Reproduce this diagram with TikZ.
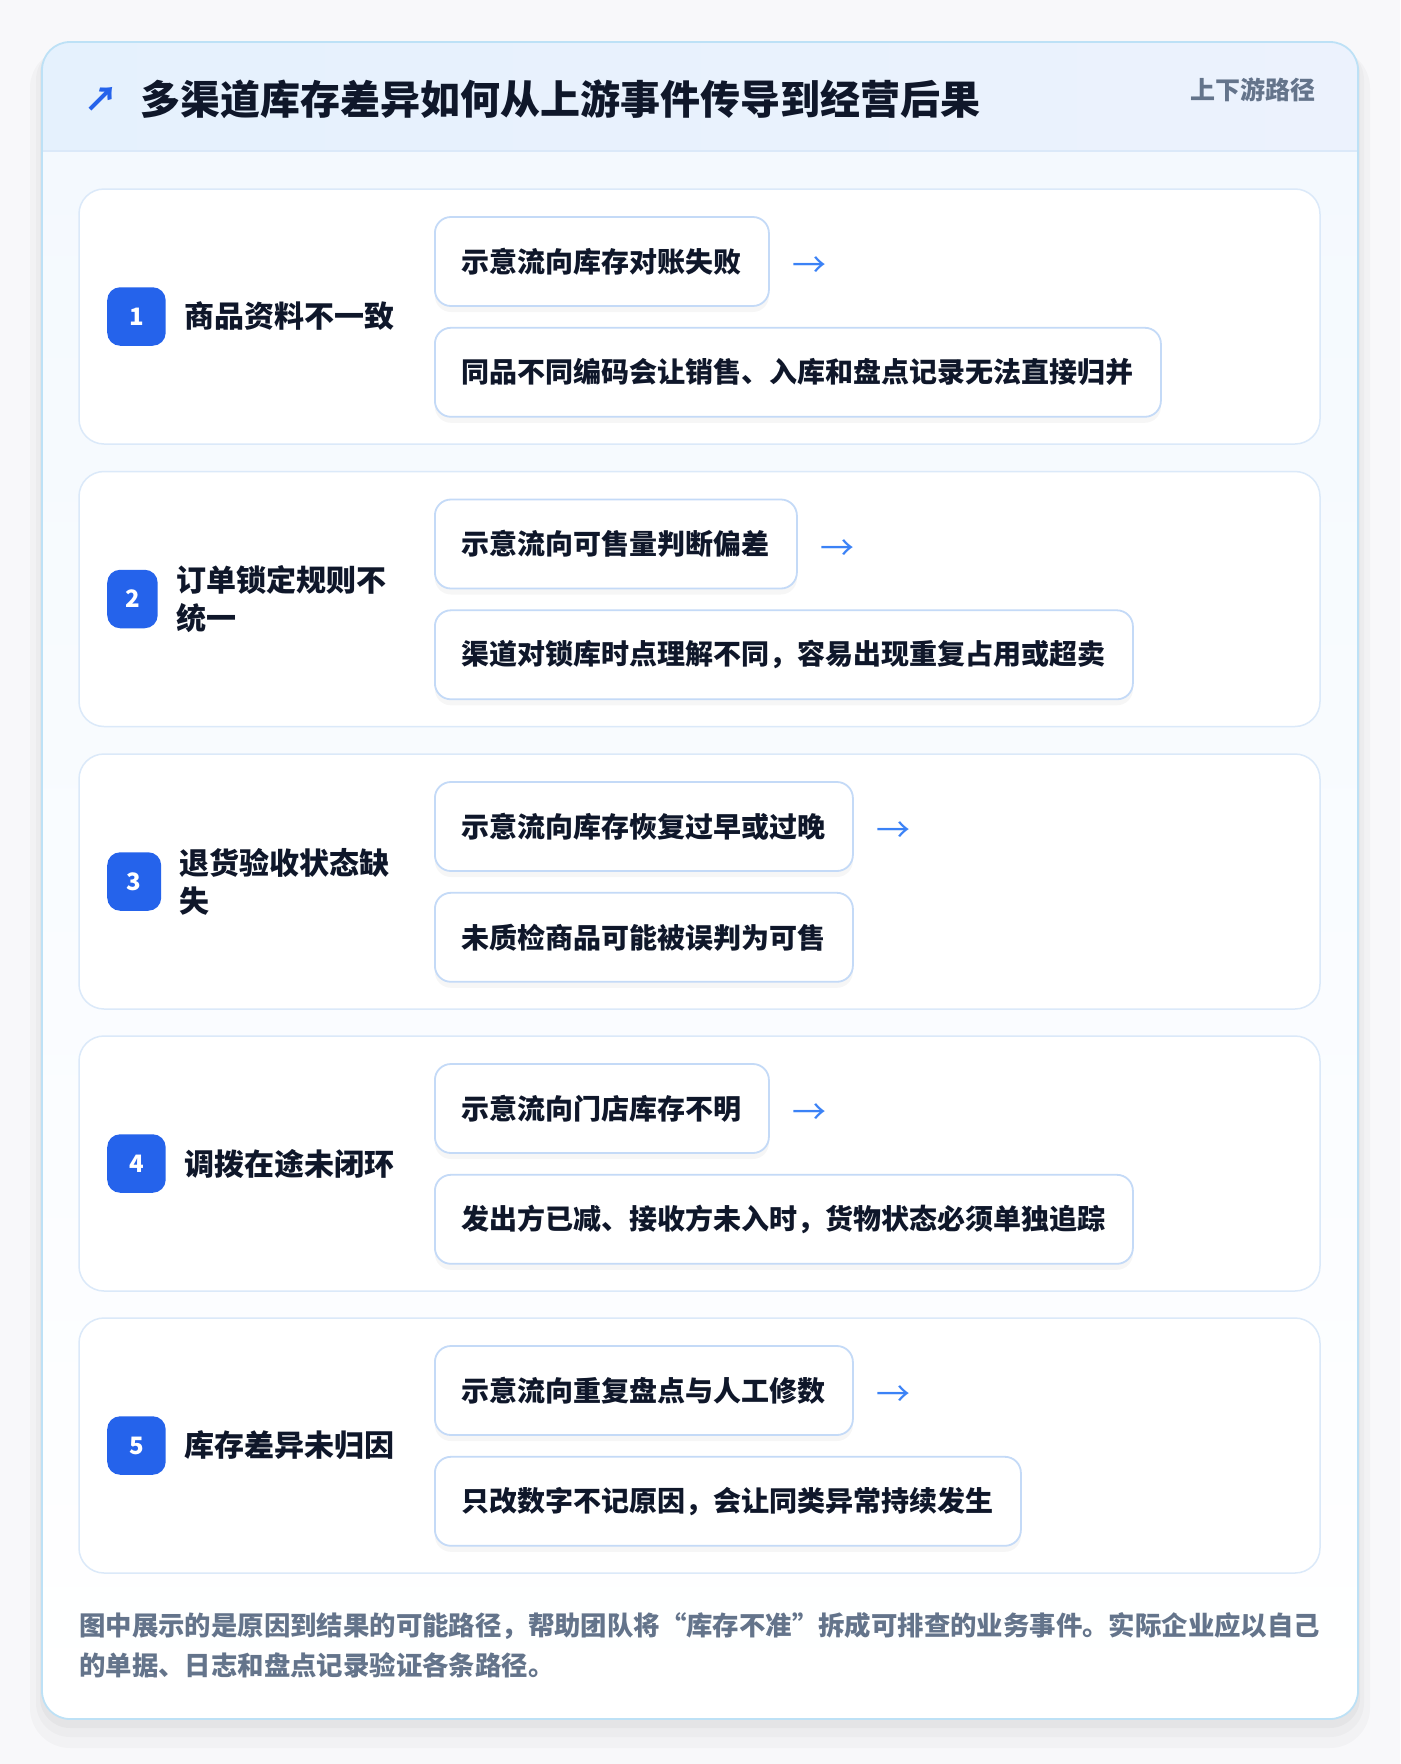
\documentclass[tikz,border=0pt]{standalone}
\usepackage{fontspec}
\setmainfont{Noto Sans CJK SC}
\usetikzlibrary{positioning,shadows}
\definecolor{invnavy}{RGB}{15,23,42}
\definecolor{invblue}{RGB}{37,99,235}
\definecolor{invarrow}{RGB}{59,130,246}
\definecolor{invgray}{RGB}{100,116,139}
\definecolor{invedge}{RGB}{196,218,247}
\definecolor{invrow}{RGB}{219,233,249}
\definecolor{invframe}{RGB}{189,225,246}
\definecolor{invhead}{RGB}{229,241,253}
\definecolor{invheadr}{RGB}{236,242,253}
\definecolor{invpage}{RGB}{248,248,250}

\begin{document}
\begin{tikzpicture}[x=1pt,y=-1pt,
    rowcard/.style={draw=invrow, line width=1.5pt, fill=white, rounded corners=25pt,
        minimum width=1241pt, minimum height=255pt, inner sep=0pt},
    badge/.style={fill=invblue, rounded corners=13pt, minimum height=58.5pt, inner sep=0pt,
        text=white, font=\fontsize{24}{24}\selectfont\bfseries, anchor=west},
    cause/.style={font=\fontsize{30}{38}\selectfont\bfseries, text=invnavy, align=left, inner sep=0pt},
    effect/.style={draw=invedge, line width=1.8pt, fill=white, rounded corners=16pt,
        minimum height=89pt, inner xsep=27pt, inner ysep=0pt, anchor=west,
        font=\fontsize{28}{34}\selectfont\bfseries, text=invnavy,
        drop shadow={shadow xshift=0pt, shadow yshift=-6pt, opacity=0.035, fill=black}},
    flowmark/.style={font=\fontsize{34}{34}\selectfont, text=invarrow, inner sep=0pt}]
    \useasboundingbox (0,0) rectangle (1400,1764);
    \fill[invpage] (0,0) rectangle (1400,1764);

    % Card shadow
    \fill[black, opacity=0.025, rounded corners=40pt] (30,48) rectangle (1370,1748);
    \fill[black, opacity=0.025, rounded corners=34pt] (36,46) rectangle (1364,1737);
    \fill[black, opacity=0.03, rounded corners=30pt] (40,44) rectangle (1360,1728);

    % Card and header band
    \fill[top color=invhead!45, bottom color=white, rounded corners=28pt] (42,42) rectangle (1358,1719);
    \begin{scope}
        \clip[rounded corners=28pt] (42,42) rectangle (1358,1719);
        \fill[left color=invhead, right color=invheadr] (42,42) rectangle (1358,151);
    \end{scope}
    \draw[invrow, line width=1.5pt] (42,151) -- (1358,151);
    \draw[invframe, line width=1.8pt, rounded corners=28pt] (42,42) rectangle (1358,1719);

    % Title
    \node[font=\fontsize{34}{34}\selectfont\bfseries, text=invblue, inner sep=0pt] (icon) at (101,99) {↗};
    \node[font=\fontsize{40}{48}\selectfont\bfseries, text=invnavy, anchor=west, inner sep=0pt] (title) at (140,99) {多渠道库存差异如何从上游事件传导到经营后果};
    \node[font=\fontsize{25}{30}\selectfont\bfseries, text=invgray, anchor=east, inner sep=0pt] (tag) at (1316,90) {上下游路径};

    % Row 1
    \node[rowcard] (row1) at (699.5,316.5) {};
    \node[badge, minimum width=58.5pt] (b1) at (107,316.5) {1};
    \node[cause, right=18pt of b1] (c1) {商品资料不一致};
    \node[effect] (a1) at (434,261.5) {示意流向库存对账失败};
    \node[flowmark, right=22pt of a1, yshift=-6pt] (m1) {→};
    \node[effect, below=20pt of a1.south west, anchor=north west] (d1) {同品不同编码会让销售、入库和盘点记录无法直接归并};

    % Row 2
    \node[rowcard] (row2) at (699.5,599) {};
    \node[badge, minimum width=50.5pt] (b2) at (107,599) {2};
    \node[cause, right=18pt of b2] (c2) {订单锁定规则不\\统一};
    \node[effect] (a2) at (434,544) {示意流向可售量判断偏差};
    \node[flowmark, right=22pt of a2, yshift=-6pt] (m2) {→};
    \node[effect, below=20pt of a2.south west, anchor=north west] (d2) {渠道对锁库时点理解不同，容易出现重复占用或超卖};

    % Row 3
    \node[rowcard] (row3) at (699.5,881.5) {};
    \node[badge, minimum width=54pt] (b3) at (107,881.5) {3};
    \node[cause, right=18pt of b3] (c3) {退货验收状态缺\\失};
    \node[effect] (a3) at (434,826.5) {示意流向库存恢复过早或过晚};
    \node[flowmark, right=22pt of a3, yshift=-6pt] (m3) {→};
    \node[effect, below=20pt of a3.south west, anchor=north west] (d3) {未质检商品可能被误判为可售};

    % Row 4
    \node[rowcard] (row4) at (699.5,1163.5) {};
    \node[badge, minimum width=58.5pt] (b4) at (107,1163.5) {4};
    \node[cause, right=18pt of b4] (c4) {调拨在途未闭环};
    \node[effect] (a4) at (434,1108.5) {示意流向门店库存不明};
    \node[flowmark, right=22pt of a4, yshift=-6pt] (m4) {→};
    \node[effect, below=20pt of a4.south west, anchor=north west] (d4) {发出方已减、接收方未入时，货物状态必须单独追踪};

    % Row 5
    \node[rowcard] (row5) at (699.5,1445.5) {};
    \node[badge, minimum width=58.5pt] (b5) at (107,1445.5) {5};
    \node[cause, right=18pt of b5] (c5) {库存差异未归因};
    \node[effect] (a5) at (434,1390.5) {示意流向重复盘点与人工修数};
    \node[flowmark, right=22pt of a5, yshift=-6pt] (m5) {→};
    \node[effect, below=20pt of a5.south west, anchor=north west] (d5) {只改数字不记原因，会让同类异常持续发生};

    % Footnote
    \node[font=\fontsize{26.4}{39.5}\selectfont\bfseries, text=invgray, align=left, anchor=west, inner sep=0pt] (note) at (79,1645.5)
        {图中展示的是原因到结果的可能路径，帮助团队将“库存不准”拆成可排查的业务事件。实际企业应以自己\\的单据、日志和盘点记录验证各条路径。};
\end{tikzpicture}
\end{document}
